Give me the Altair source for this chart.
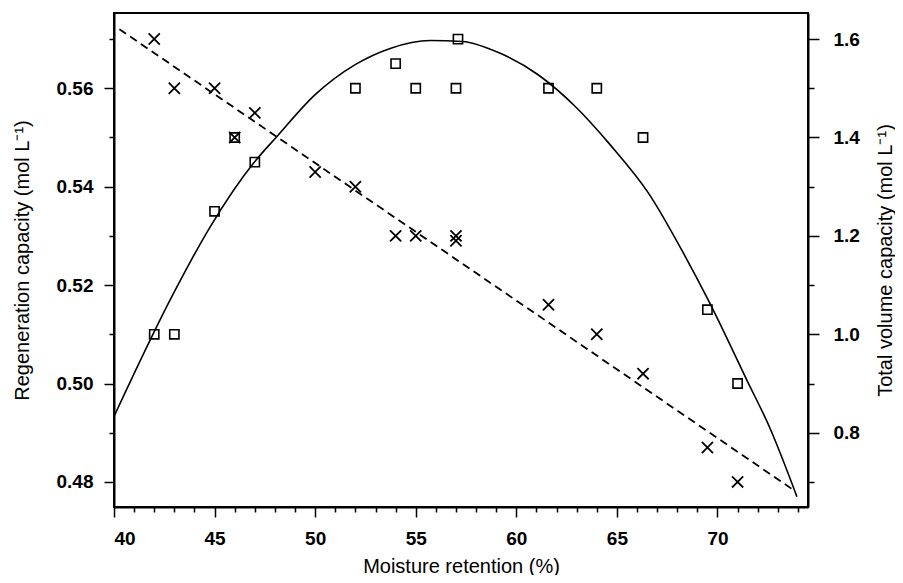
import altair as alt
import pandas as pd

# Crosses: regeneration capacity (left axis)
x_cross = [42, 43, 45, 46, 47, 50, 52, 54, 55, 57, 57, 61.6, 64, 66.3, 69.5, 71]
regen = [0.570, 0.560, 0.560, 0.550, 0.555, 0.543, 0.540, 0.530, 0.530, 0.530, 0.529,
         0.516, 0.510, 0.502, 0.487, 0.480]

# Squares: total volume capacity (right axis)
x_sq = [42, 43, 45, 46, 47, 52, 54, 55, 57, 57.1, 61.6, 64, 66.3, 69.5, 71]
tvc = [1.0, 1.0, 1.25, 1.4, 1.35, 1.5, 1.55, 1.5, 1.5, 1.6, 1.5, 1.5, 1.4, 1.05, 0.9]

# Linear fit (dashed) endpoints, left axis
lin_x = [40.27, 73.76]
lin_y = [0.572, 0.4784]

# Curved fit (solid), right axis
curve_x = [40.0, 42.88, 44.79, 46.94, 48.1, 50.0, 51.99, 53.73, 55.72, 57.3, 59.2,
           61.1, 62.93, 64.67, 66.57, 68.4, 69.6, 71.46, 72.6, 73.95]
curve_y = [0.833, 1.077, 1.219, 1.348, 1.402, 1.487, 1.548, 1.581, 1.597, 1.595, 1.571,
           1.527, 1.463, 1.385, 1.287, 1.158, 1.065, 0.907, 0.81, 0.67]

x_ticks = [40, 41, 42, 43, 44, 45, 46, 47, 48, 49, 50, 51, 52, 53, 54, 55, 56, 57, 58, 59,
           60, 61, 62, 63, 64, 65, 66, 67, 68, 69, 70, 71, 72, 73, 74]
left_ticks = [0.48, 0.49, 0.50, 0.51, 0.52, 0.53, 0.54, 0.55, 0.56, 0.57]
right_ticks = [0.7, 0.8, 0.9, 1.0, 1.1, 1.2, 1.3, 1.4, 1.5, 1.6]

X_DOMAIN = [40, 74.5]
LEFT_DOMAIN = [0.4749, 0.5753]
RIGHT_DOMAIN = [0.649, 1.653]

FONT = "Liberation Sans"

df_cross = pd.DataFrame({"x": x_cross, "y": regen})
df_sq = pd.DataFrame({"x": x_sq, "y": tvc})
df_lin = pd.DataFrame({"x": lin_x, "y": lin_y})
df_curve = pd.DataFrame({"x": curve_x, "y": curve_y})

x_enc = alt.X(
    "x:Q",
    scale=alt.Scale(domain=X_DOMAIN, nice=False, zero=False),
    axis=alt.Axis(
        title="Moisture retention (%)",
        values=x_ticks,
        labelExpr="datum.value % 5 == 0 ? datum.value : ''",
        tickSize={"condition": {"test": "datum.value % 5 == 0", "value": 10}, "value": 5},
        grid=False,
        labelPadding=12,
        titlePadding=8,
    ),
)

left_axis = alt.Axis(
    title="Regeneration capacity (mol L⁻¹)",
    orient="left",
    values=left_ticks,
    labelExpr="round(datum.value*100) % 2 == 0 ? format(datum.value, '.2f') : ''",
    tickSize={"condition": {"test": "round(datum.value*100) % 2 == 0", "value": 10}, "value": 5},
    grid=False,
    labelPadding=11,
    titlePadding=24,
)
right_axis = alt.Axis(
    title="Total volume capacity (mol L⁻¹)",
    orient="right",
    values=right_ticks,
    labelExpr="round(datum.value*10) % 2 == 0 ? format(datum.value, '.1f') : ''",
    tickSize={"condition": {"test": "round(datum.value*10) % 2 == 0", "value": 11}, "value": 6},
    titleAngle=270,
    titleBaseline="top",
    grid=False,
    labelPadding=14,
    titlePadding=16,
)

y_left = alt.Y("y:Q", scale=alt.Scale(domain=LEFT_DOMAIN, nice=False, zero=False), axis=left_axis)
y_right = alt.Y("y:Q", scale=alt.Scale(domain=RIGHT_DOMAIN, nice=False, zero=False), axis=right_axis)

crosses = alt.Chart(df_cross).mark_point(
    shape="M-1,-1L1,1M1,-1L-1,1", size=125, stroke="black", strokeWidth=1.8,
    filled=False, opacity=1
).encode(x=x_enc, y=y_left)

dashed = alt.Chart(df_lin).mark_line(
    color="black", strokeWidth=1.8, strokeDash=[8, 5]
).encode(x=x_enc, y=y_left)

squares = alt.Chart(df_sq).mark_point(
    shape="square", size=85, stroke="black", strokeWidth=1.6, filled=False, opacity=1
).encode(x=x_enc, y=y_right)

curve = alt.Chart(df_curve).mark_line(
    color="black", strokeWidth=1.6, interpolate="monotone"
).encode(x=x_enc, y=y_right)

left = alt.layer(dashed, crosses)
right = alt.layer(curve, squares)

chart = alt.layer(left, right).resolve_scale(y="independent").properties(
    width=694,
    height=494,
    background="white",
    autosize=alt.AutoSizeParams(type="none"),
    padding={"left": 106, "top": 5, "right": 87, "bottom": 68},
).configure_view(
    stroke="black", strokeWidth=2
).configure_axis(
    domainColor="black",
    domainWidth=2,
    tickColor="black",
    tickWidth=1.5,
    labelFont=FONT,
    labelFontSize=19,
    labelFontWeight="bold",
    labelColor="black",
    titleFont=FONT,
    titleFontSize=20,
    titleFontWeight="normal",
    titleColor="black",
)

chart.save("out.html", embed_options={"renderer": "svg", "actions": False})
